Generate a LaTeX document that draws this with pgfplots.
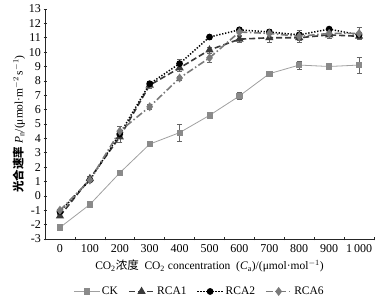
\documentclass[border=0pt]{standalone}
\usepackage{fontspec}
\setmainfont{Liberation Serif}
\newfontfamily\cjk{Noto Sans CJK SC}
\usepackage{pgfplots}
\pgfplotsset{compat=1.18}
\definecolor{ckgray}{HTML}{8A8A8A}
\definecolor{ckline}{HTML}{A0A0A0}
\definecolor{rcaone}{HTML}{3A3A3A}
\definecolor{rcasix}{HTML}{7A7A7A}
\begin{document}
\begin{tikzpicture}
\begin{axis}[
  name=ax,
  scale only axis,
  width=329pt, height=230pt,
  xmin=-50, xmax=1050, ymin=-3, ymax=13,
  axis lines=left,
  axis line style={-, black!85, line width=0.6pt},
  xtick={0,100,...,1000},
  xticklabels={0,100,200,300,400,500,600,700,800,900,1\,000},
  major x tick style={draw=none},
  minor xtick={-50,50,150,...,1050},
  minor x tick style={black!85, line width=0.6pt},
  minor tick length=3pt,
  ytick={-3,-2,...,13},
  major tick length=3pt,
  tick style={black!85, line width=0.6pt},
  tick label style={font=\fontsize{12}{14}\selectfont},
  /pgf/number format/assume math mode=true,
  yticklabel style={/pgf/number format/fixed, xshift=1pt},
  ylabel={{\cjk\bfseries 光合速率}\ \textit{P}\textsubscript{n}/(μmol·m$^{-2}$\,s$^{-1}$)},
  ylabel style={font=\fontsize{11.5}{13}\selectfont, yshift=-3pt},
  xlabel={CO\textsubscript{2}{\cjk 浓度}\ \ CO\textsubscript{2} concentration\ \ (\textit{C}\textsubscript{a})/(μmol·mol$^{-1}$)},
  xlabel style={font=\fontsize{11.5}{13}\selectfont, yshift=-1pt},
  legend style={draw=none, fill=none, at={(0.47,-0.19)}, anchor=north,
    font=\fontsize{11.5}{13}\selectfont, legend columns=4,
    /tikz/every even column/.append style={column sep=8pt}},
  legend cell align=left,
  legend image code/.code={\draw[mark repeat=2,mark phase=2] plot coordinates {(0cm,0cm) (0.45cm,0cm) (0.9cm,0cm)};},
  error bars/y dir=both, error bars/y explicit,
  error bars/error bar style={black!60, line width=0.5pt},
  error bars/error mark options={black!60, rotate=90, mark size=2.5pt},
]
\addplot[ckline, line width=0.8pt, mark=square*, mark size=2.6pt,
  mark options={solid, fill=ckgray, draw=ckgray}]
  coordinates {(0,-2.2)+-(0,0.1) (100,-0.6)+-(0,0.1) (200,1.6)+-(0,0.1) (300,3.6)+-(0,0.1)
   (400,4.4)+-(0,0.6) (500,5.6)+-(0,0.1) (600,6.95)+-(0,0.25) (700,8.5)+-(0,0.1)
   (800,9.1)+-(0,0.3) (900,9.0)+-(0,0.1) (1000,9.1)+-(0,0.55)};
\addlegendentry{CK}
\addplot[rcaone, line width=1.6pt, dash pattern=on 6pt off 3pt, mark=triangle*, mark size=3.2pt,
  mark options={solid, fill=rcaone, draw=rcaone}]
  coordinates {(0,-1.4)+-(0,0.1) (100,1.2)+-(0,0.15) (200,4.1)+-(0,0.35) (300,7.7)+-(0,0.2)
   (400,8.9)+-(0,0.2) (500,10.15)+-(0,0.2) (600,10.9)+-(0,0.2) (700,11.0)+-(0,0.3)
   (800,11.0)+-(0,0.2) (900,11.2)+-(0,0.2) (1000,11.1)+-(0,0.2)};
\addlegendentry{RCA1}
\addplot[black, line width=1.5pt, dash pattern=on 1.3pt off 1.7pt, mark=*, mark size=2.6pt,
  mark options={solid, fill=black}]
  coordinates {(0,-1.1)+-(0,0.1) (100,1.1)+-(0,0.1) (200,4.3)+-(0,0.2) (300,7.8)+-(0,0.2)
   (400,9.2)+-(0,0.3) (500,11.05)+-(0,0.15) (600,11.55)+-(0,0.15) (700,11.4)+-(0,0.15)
   (800,11.2)+-(0,0.2) (900,11.6)+-(0,0.15) (1000,11.2)+-(0,0.2)};
\addlegendentry{RCA2}
\addplot[rcasix, line width=1.6pt, dash pattern=on 7pt off 2.5pt on 1.5pt off 2.5pt, mark=diamond*, mark size=3.2pt,
  mark options={solid, fill=rcasix, draw=rcasix}]
  coordinates {(0,-1.0)+-(0,0.1) (100,1.1)+-(0,0.1) (200,4.5)+-(0,0.35) (300,6.2)+-(0,0.15)
   (400,8.2)+-(0,0.15) (500,9.6)+-(0,0.3) (600,11.4)+-(0,0.2) (700,11.3)+-(0,0.3)
   (800,11.1)+-(0,0.4) (900,11.3)+-(0,0.2) (1000,11.3)+-(0,0.4)};
\addlegendentry{RCA6}
\end{axis}
\path (ax.south west) ++(-45pt,-59pt);
\path (ax.north east) ++(13pt,9pt);
\end{tikzpicture}
\end{document}
